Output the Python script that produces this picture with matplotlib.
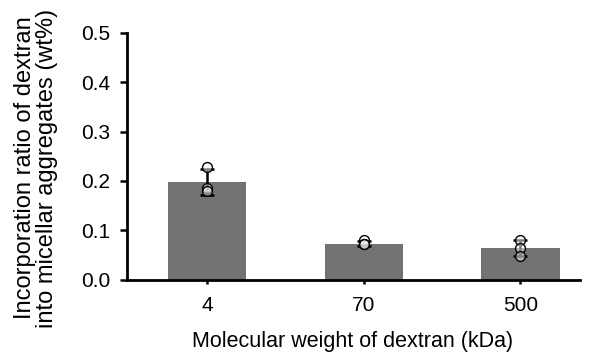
import matplotlib.pyplot as plt
import numpy as np

plt.rcParams["font.family"] = ["Liberation Sans", "DejaVu Sans"]

mw_labels = ["4", "70", "500"]
means = [0.198, 0.073, 0.064]
sds = [0.026, 0.005, 0.017]
replicates = [[0.228, 0.186, 0.180], [0.081, 0.073, 0.072], [0.080, 0.064, 0.048]]

fig = plt.figure(figsize=(5.9, 3.54), dpi=100)
ax = fig.add_axes([127/590, 1-279.5/354, 453/590, 246.5/354])

x = np.arange(len(mw_labels))
ax.bar(x, means, width=0.5, color="#737373", zorder=1)
ax.errorbar(x, means, yerr=sds, fmt="none", ecolor="black", elinewidth=1.8,
            capsize=5, capthick=1.8, zorder=3)
for xi, reps in zip(x, replicates):
    ax.scatter([xi]*len(reps), reps, s=50, facecolors=(1, 1, 1, 0.5),
               edgecolors="black", linewidths=1.0, zorder=4)

ax.set_xlim(-0.51, 2.38)
ax.set_ylim(0, 0.5)
yt = np.arange(0, 0.51, 0.1)
ax.set_yticks(yt)
ax.set_yticklabels([f"{v:.1f}" for v in yt])
ax.set_xticks(x)
ax.set_xticklabels(mw_labels)
ax.spines[["top", "right"]].set_visible(False)
for s in ["left", "bottom"]:
    ax.spines[s].set_linewidth(2)
ax.tick_params(axis="y", direction="out", length=5, width=1.8, labelsize=15, pad=7)
ax.tick_params(axis="x", direction="out", length=3, width=1.8, labelsize=15, pad=9)

fig.text(353/590, 1-347/354, "Molecular weight of dextran (kDa)",
         ha="center", va="baseline", fontsize=15.5)
fig.text(36/590, 1-168/354, "Incorporation ratio of dextran\ninto micellar aggregates (wt%)",
         rotation=90, ha="center", va="center", fontsize=17, linespacing=0.98)

fig.savefig("out.png", dpi=100)
